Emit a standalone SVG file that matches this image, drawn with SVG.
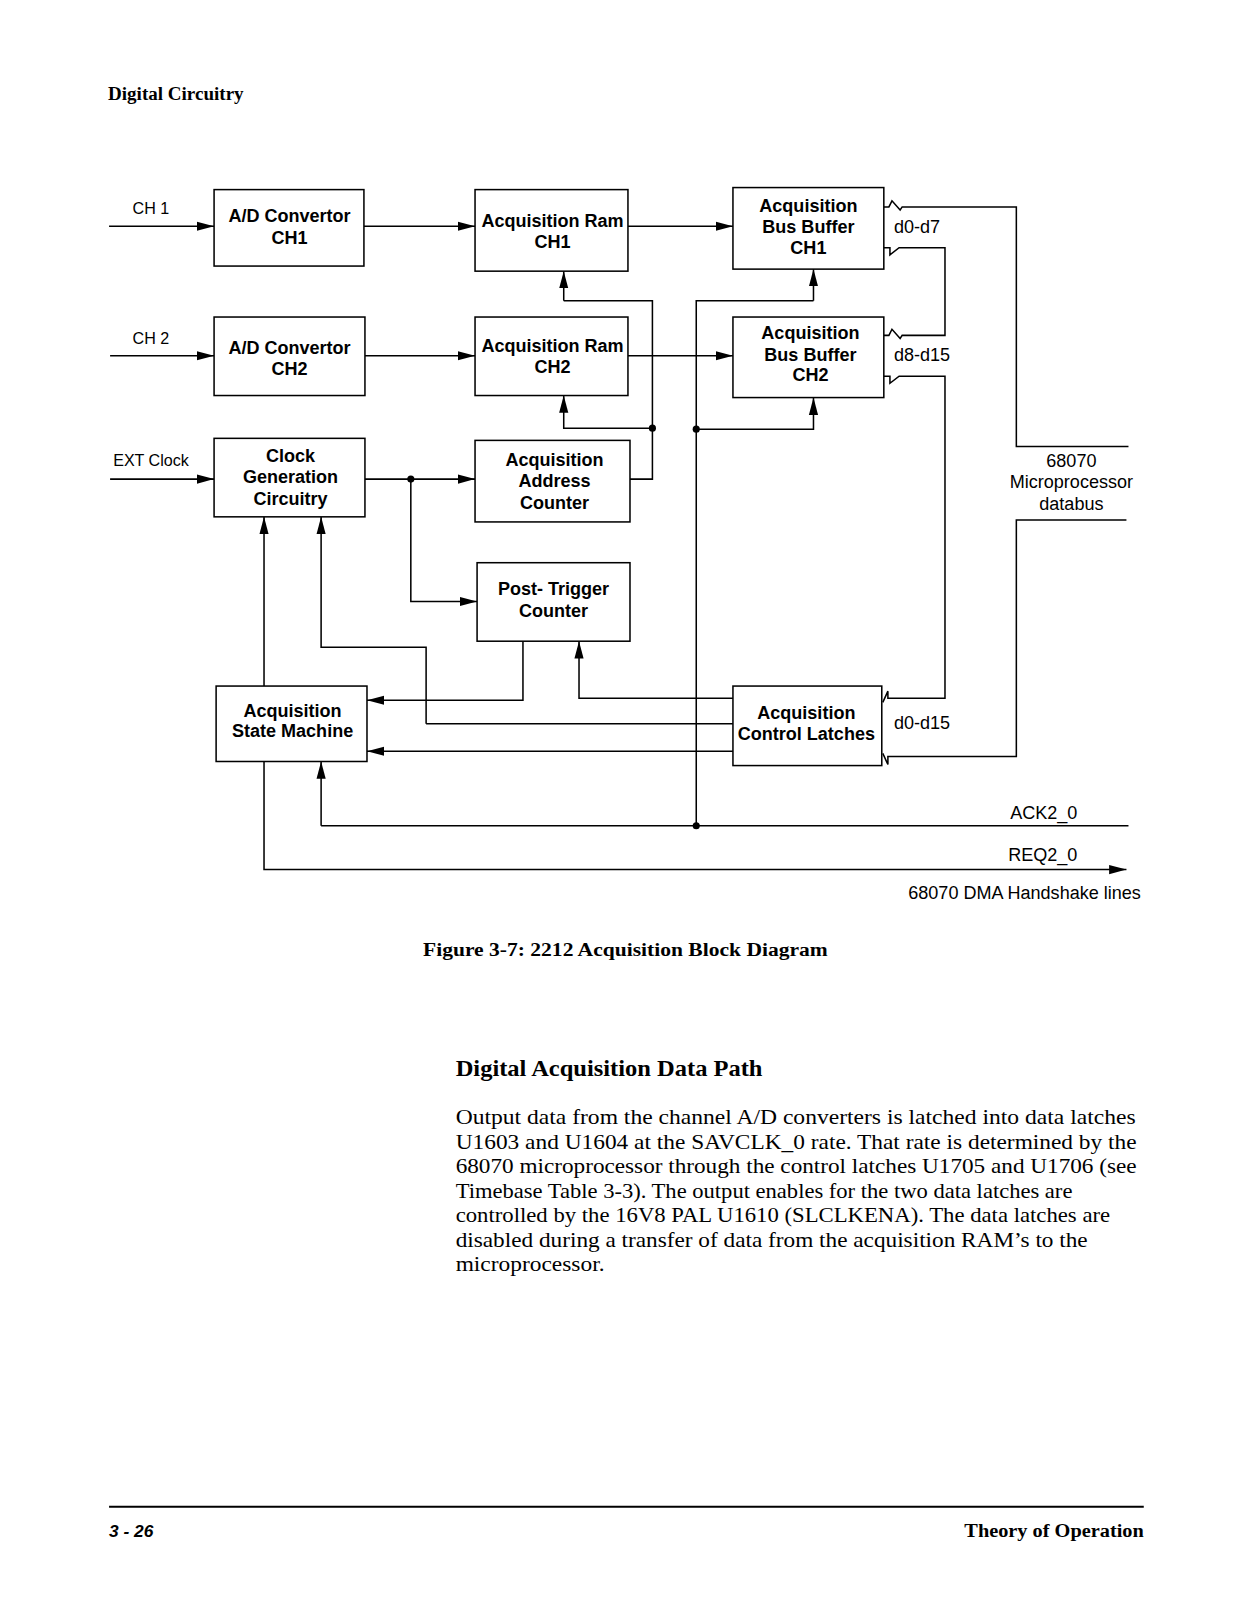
<svg xmlns="http://www.w3.org/2000/svg" width="1246" height="1598" viewBox="0 0 1246 1598">
<defs>
<marker id="arr" markerUnits="userSpaceOnUse" markerWidth="18" markerHeight="10" refX="17" refY="5" orient="auto">
<path d="M0,0.5 L17,5 L0,9.5 z" fill="#000"/>
</marker>
<style>
.box{fill:#fff;stroke:#000;stroke-width:1.5}
.ln{fill:none;stroke:#000;stroke-width:1.5}
.ar{fill:none;stroke:#000;stroke-width:1.5;marker-end:url(#arr)}
.bt{font-family:"Liberation Sans",Arial,sans-serif;font-weight:bold;font-size:17.7px;text-anchor:middle;fill:#000}
.lb{font-family:"Liberation Sans",Arial,sans-serif;font-size:17.7px;fill:#000}
.sm{font-family:"Liberation Sans",Arial,sans-serif;font-size:15.8px;fill:#000}
.sf{font-family:"Liberation Serif","Times New Roman",serif;fill:#000}
</style>
</defs>
<rect width="1246" height="1598" fill="#fff"/>
<g transform="scale(1.0194)">
<text class="sf" x="106" y="98" font-size="19" font-weight="bold" textLength="133" lengthAdjust="spacingAndGlyphs">Digital Circuitry</text>

<g id="connectors">
<path class="ar" d="M107,222 H210"/>
<path class="ar" d="M357,222 H466"/>
<path class="ar" d="M616,222 H719"/>
<path class="ar" d="M108,349 H210"/>
<path class="ar" d="M358,349 H466"/>
<path class="ar" d="M616,349 H719"/>
<path class="ar" d="M108,470 H210"/>
<path class="ar" d="M358,470 H466"/>
<path class="ar" d="M403,470 V590 H468"/>
<path class="ln" d="M618,470 H640 V295 H553"/>
<path class="ar" d="M553,295 V266"/>
<path class="ar" d="M640,420 H553 V388"/>
<path class="ln" d="M683,810 V295 H798"/>
<path class="ar" d="M798,295 V264"/>
<path class="ar" d="M683,421 H798 V390"/>
<path class="ar" d="M259,673 V507"/>
<path class="ar" d="M418,710 V635 H315 V507"/>
<path class="ln" d="M719,710 H418"/>
<path class="ar" d="M513,629 V687 H360"/>
<path class="ar" d="M719,685 H568 V629"/>
<path class="ar" d="M719,737 H360"/>
<path class="ln" d="M1107,810 H315"/>
<path class="ar" d="M315,810 V747"/>
<path class="ar" d="M259,747 V853 H1105"/>
<circle cx="403" cy="470" r="3.5"/>
<circle cx="640" cy="420" r="3.5"/>
<circle cx="683" cy="421" r="3.5"/>
<circle cx="683" cy="810" r="3.5"/>
<path class="ln" d="M867,203 H872 L875,197 L883,206 L885,203 H997 V438 H1107"/>
<path class="ln" d="M867,243 H873 V250 L882,243 H927 V329 H885 L883,332 L875,323 L872,329 H867"/>
<path class="ln" d="M867,369 H873 V376 L882,369 H927 V685 H871 V678 L866,689"/>
<path class="ln" d="M1105,510 H997 V742 H871 V750 L866,739"/>
</g>

<g id="n-adc1"><rect class="box" x="210" y="186" width="147" height="75"/><text class="bt" x="284" y="218">A/D Convertor</text><text class="bt" x="284" y="239">CH1</text></g>
<g id="n-adc2"><rect class="box" x="210" y="311" width="148" height="77"/><text class="bt" x="284" y="347">A/D Convertor</text><text class="bt" x="284" y="368">CH2</text></g>
<g id="n-clock"><rect class="box" x="210" y="430" width="148" height="77"/><text class="bt" x="285" y="453">Clock</text><text class="bt" x="285" y="474">Generation</text><text class="bt" x="285" y="495">Circuitry</text></g>
<g id="n-asm"><rect class="box" x="212" y="673" width="148" height="74"/><text class="bt" x="287" y="703">Acquisition</text><text class="bt" x="287" y="723">State Machine</text></g>
<g id="n-ram1"><rect class="box" x="466" y="186" width="150" height="80"/><text class="bt" x="542" y="223">Acquisition Ram</text><text class="bt" x="542" y="243">CH1</text></g>
<g id="n-ram2"><rect class="box" x="466" y="311" width="150" height="77"/><text class="bt" x="542" y="345">Acquisition Ram</text><text class="bt" x="542" y="366">CH2</text></g>
<g id="n-addr"><rect class="box" x="466" y="432" width="152" height="80"/><text class="bt" x="544" y="457">Acquisition</text><text class="bt" x="544" y="478">Address</text><text class="bt" x="544" y="499">Counter</text></g>
<g id="n-post"><rect class="box" x="468" y="552" width="150" height="77"/><text class="bt" x="543" y="584">Post- Trigger</text><text class="bt" x="543" y="605">Counter</text></g>
<g id="n-bus1"><rect class="box" x="719" y="184" width="148" height="80"/><text class="bt" x="793" y="208">Acquisition</text><text class="bt" x="793" y="229">Bus Buffer</text><text class="bt" x="793" y="249">CH1</text></g>
<g id="n-bus2"><rect class="box" x="719" y="311" width="148" height="79"/><text class="bt" x="795" y="333">Acquisition</text><text class="bt" x="795" y="354">Bus Buffer</text><text class="bt" x="795" y="374">CH2</text></g>
<g id="n-latch"><rect class="box" x="719" y="673" width="146" height="78"/><text class="bt" x="791" y="705">Acquisition</text><text class="bt" x="791" y="726">Control Latches</text></g>

<g id="labels">
<text class="sm" x="130" y="210">CH 1</text>
<text class="sm" x="130" y="337">CH 2</text>
<text class="sm" x="111" y="457">EXT Clock</text>
<text class="lb" x="877" y="229">d0-d7</text>
<text class="lb" x="877" y="354">d8-d15</text>
<text class="lb" x="877" y="715">d0-d15</text>
<text class="lb" x="1051" y="458" text-anchor="middle">68070</text>
<text class="lb" x="1051" y="479" text-anchor="middle">Microprocessor</text>
<text class="lb" x="1051" y="500" text-anchor="middle">databus</text>
<text class="lb" x="991" y="803">ACK2_0</text>
<text class="lb" x="989" y="845">REQ2_0</text>
<text class="lb" x="891" y="882">68070 DMA Handshake lines</text>
</g>

<text class="sf" x="415" y="938" font-size="19" font-weight="bold" textLength="397" lengthAdjust="spacingAndGlyphs">Figure 3-7:  2212 Acquisition Block Diagram</text>
<text class="sf" x="447" y="1056" font-size="23" font-weight="bold" textLength="301" lengthAdjust="spacingAndGlyphs">Digital Acquisition Data Path</text>
<g class="sf" font-size="21">
<text x="447" y="1103" textLength="667" lengthAdjust="spacingAndGlyphs">Output data from the channel A/D converters is latched into data latches</text>
<text x="447" y="1127" textLength="668" lengthAdjust="spacingAndGlyphs">U1603 and U1604 at the SAVCLK_0 rate. That rate is determined by the</text>
<text x="447" y="1151" textLength="668" lengthAdjust="spacingAndGlyphs">68070 microprocessor through the control latches U1705 and U1706 (see</text>
<text x="447" y="1175" textLength="605" lengthAdjust="spacingAndGlyphs">Timebase Table 3-3). The output enables for the two data latches are</text>
<text x="447" y="1199" textLength="642" lengthAdjust="spacingAndGlyphs">controlled by the 16V8 PAL U1610 (SLCLKENA). The data latches are</text>
<text x="447" y="1223" textLength="620" lengthAdjust="spacingAndGlyphs">disabled during a transfer of data from the acquisition RAM’s to the</text>
<text x="447" y="1247" textLength="146" lengthAdjust="spacingAndGlyphs">microprocessor.</text>
</g>
<line x1="107" y1="1478" x2="1122" y2="1478" stroke="#000" stroke-width="2"/>
<text x="107" y="1508" font-family="Liberation Sans,Arial,sans-serif" font-size="17" font-weight="bold" font-style="italic">3 - 26</text>
<text class="sf" x="1122" y="1508" font-size="18" font-weight="bold" text-anchor="end" textLength="176" lengthAdjust="spacingAndGlyphs">Theory of Operation</text>
</g>
</svg>
